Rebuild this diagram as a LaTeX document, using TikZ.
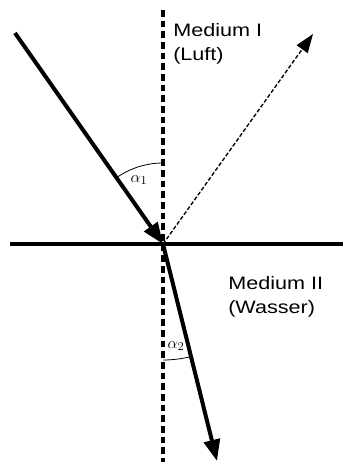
\documentclass[tikz,border=0pt]{standalone}
\usepackage{fontspec}
\setmainfont{Liberation Sans}
\newfontfamily\mediumfont[FakeStretch=1.2]{Liberation Sans}
\usepackage{tikz}
\usetikzlibrary{arrows.meta,positioning,calc}

\tikzset{
  ray/.style={line width=3pt, -{Triangle[length=16pt, width=12pt]}},
  reflray/.style={line width=1pt, dash pattern=on 3pt off 1.5pt, -{Triangle[length=14pt, width=10pt]}},
  normal/.style={line width=3pt, dash pattern=on 5pt off 3pt},
  surface/.style={line width=3pt},
  anglearc/.style={line width=0.6pt},
  medium/.style={align=left, inner sep=0pt, anchor=base west, font=\mediumfont\fontsize{13.5}{18}\selectfont},
  anglelabel/.style={inner sep=0pt, font=\fontsize{13}{15}\selectfont}
}

\begin{document}
\begin{tikzpicture}[x=0.75pt, y=-0.75pt]
  \useasboundingbox (0,0) rectangle (343,462);
  \coordinate (hit) at (163,244);
  \coordinate (src) at (15,33);
  \coordinate (refl) at (313,34);
  \coordinate (refr) at (217,461);
  \coordinate (normtop) at (163,10);
  \coordinate (normbot) at (163,462);
  \coordinate (surfL) at (10,244);
  \coordinate (surfR) at (343,244);
  % Normal and surface
  \draw[normal] (normtop) -- (normbot);
  \draw[surface] (surfL) -- (surfR);
  % Rays
  \draw[ray] (src) -- (hit);
  \draw[reflray] (hit) -- (refl);
  \draw[ray] (hit) -- (refr);
  % Angles
  \draw[anglearc] (hit) ++(-90:81) arc[start angle=-90, end angle=-125, radius=81];
  \draw[anglearc] (hit) ++(90:116) arc[start angle=90, end angle=76, radius=116];
  \node[anglelabel] (a1) at (139,180) {$\alpha_1$};
  \node[anglelabel] (a2) at (176,346) {$\alpha_2$};
  % Media
  \node[medium] (air) at (173,60) {Medium I\\(Luft)};
  \node[medium] (water) at (228,313) {Medium II\\(Wasser)};
\end{tikzpicture}
\end{document}
